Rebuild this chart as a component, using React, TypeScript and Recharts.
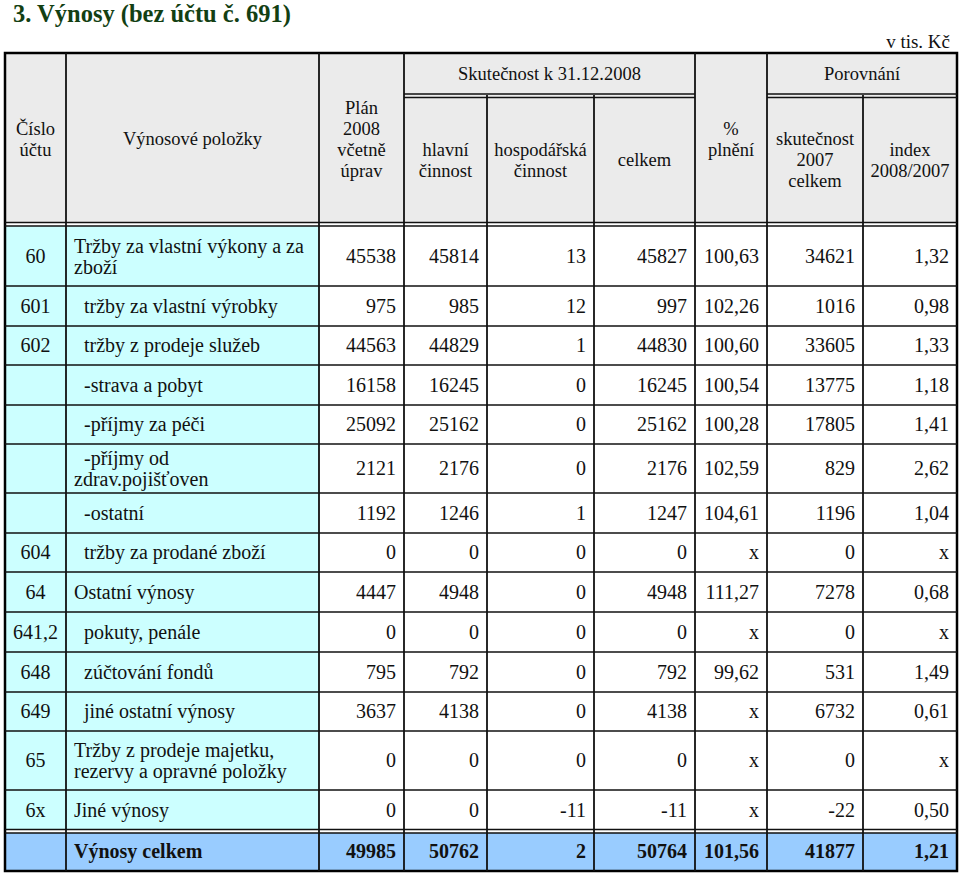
import React from 'react';
import { ComposedChart, XAxis, YAxis, Scatter, ReferenceArea, ReferenceLine } from 'recharts';

// values (v tis. Kč)
const accounts = ['60', '601', '602', '', '', '', '', '604', '64', '641,2', '648', '649', '65', '6x', ''];
const items = [
  'Tržby za vlastní výkony a za\nzboží',
  '  tržby za vlastní výrobky',
  '  tržby z prodeje služeb',
  '  -strava a pobyt',
  '  -příjmy za péči',
  '  -příjmy od\nzdrav.pojišťoven',
  '  -ostatní',
  '  tržby za prodané zboží',
  'Ostatní výnosy',
  '  pokuty, penále',
  '  zúčtování fondů',
  '  jiné ostatní výnosy',
  'Tržby z prodeje majetku,\nrezervy a opravné položky',
  'Jiné výnosy',
  'Výnosy celkem',
];
const plan2008 = ['45538', '975', '44563', '16158', '25092', '2121', '1192', '0', '4447', '0', '795', '3637', '0', '0', '49985'];
const mainActivity = ['45814', '985', '44829', '16245', '25162', '2176', '1246', '0', '4948', '0', '792', '4138', '0', '0', '50762'];
const economicActivity = ['13', '12', '1', '0', '0', '0', '1', '0', '0', '0', '0', '0', '0', '-11', '2'];
const total2008 = ['45827', '997', '44830', '16245', '25162', '2176', '1247', '0', '4948', '0', '792', '4138', '0', '-11', '50764'];
const fulfilment = ['100,63', '102,26', '100,60', '100,54', '100,28', '102,59', '104,61', 'x', '111,27', 'x', '99,62', 'x', 'x', 'x', '101,56'];
const actual2007 = ['34621', '1016', '33605', '13775', '17805', '829', '1196', '0', '7278', '0', '531', '6732', '0', '-22', '41877'];
const index0807 = ['1,32', '0,98', '1,33', '1,18', '1,41', '2,62', '1,04', 'x', '0,68', 'x', '1,49', '0,61', 'x', '0,50', '1,21'];

const title = '3. Výnosy (bez účtu č. 691)';
const unitNote = 'v tis. Kč';
const groupHeaders = ['Skutečnost k 31.12.2008', 'Porovnání'];
const columnHeaders = [
  'Číslo\núčtu',
  'Výnosové položky',
  'Plán\n2008\nvčetně\núprav',
  'hlavní\nčinnost',
  'hospodářská\nčinnost',
  'celkem',
  '%\nplnění',
  'skutečnost\n2007\ncelkem',
  'index\n2008/2007',
];

// table layout
const W = 960;
const H = 876;
const colEdges = [5, 66, 319, 404, 487, 594, 695, 767, 863, 957];
const rowEdges = [227, 286, 326, 365, 405, 444, 493, 533, 572, 612, 652, 692, 731, 790, 831, 871];
const headTop = 53;
const headMid = 95;
const headBottom = 225;
const fullHeaderCols = [0, 1, 2, 6];
const groupSpans = [[3, 6], [7, 9]];

const FONT = "'Liberation Serif', 'Times New Roman', serif";
const INK = '#111';

type Cell = {
  x: number;
  y: number;
  text: string;
  anchor: 'start' | 'middle' | 'end';
  size: number;
  bold?: boolean;
  color?: string;
};

function buildCells(): Cell[] {
  const cells: Cell[] = [];
  cells.push({ x: 13, y: 13.5, text: title, anchor: 'start', size: 24.5, bold: true, color: '#133f13' });
  cells.push({ x: 950, y: 41.5, text: unitNote, anchor: 'end', size: 19 });

  groupSpans.forEach(([a, b], i) => {
    cells.push({
      x: (colEdges[a] + colEdges[b]) / 2,
      y: (headTop + headMid) / 2,
      text: groupHeaders[i],
      anchor: 'middle',
      size: 18.5,
    });
  });
  columnHeaders.forEach((t, c) => {
    const full = fullHeaderCols.includes(c);
    cells.push({
      x: (colEdges[c] + colEdges[c + 1]) / 2,
      y: full ? (headTop + headBottom) / 2 : (headMid + headBottom) / 2,
      text: t,
      anchor: 'middle',
      size: 18.5,
    });
  });

  const numeric = [plan2008, mainActivity, economicActivity, total2008, fulfilment, actual2007, index0807];
  const last = items.length - 1;
  items.forEach((item, r) => {
    const cy = (rowEdges[r] + rowEdges[r + 1]) / 2 + (r === last ? 0.5 : 0);
    const bold = r === last;
    if (accounts[r]) {
      cells.push({ x: (colEdges[0] + colEdges[1]) / 2, y: cy, text: accounts[r], anchor: 'middle', size: 20, bold });
    }
    cells.push({ x: colEdges[1] + 8, y: cy, text: item, anchor: 'start', size: 20, bold });
    numeric.forEach((col, i) => {
      cells.push({ x: colEdges[i + 3] - 8, y: cy, text: col[r], anchor: 'end', size: 20, bold });
    });
  });
  return cells;
}

const cells = buildCells();

const renderCell = (props: any) => {
  const { cx, cy, payload } = props;
  const p = payload as Cell;
  const lines = p.text.split('\n');
  const lh = 21;
  const base = cy - ((lines.length - 1) * lh) / 2 + p.size * 0.34;
  return (
    <text
      x={cx}
      y={base}
      textAnchor={p.anchor}
      fill={p.color || INK}
      xmlSpace="preserve"
      style={{
        whiteSpace: 'pre',
        fontFamily: FONT,
        fontSize: p.size,
        fontWeight: p.bold ? 700 : 400,
      }}
    >
      {lines.map((l, i) => (
        <tspan key={i} x={cx} y={base + i * lh}>
          {l}
        </tspan>
      ))}
    </text>
  );
};

type Seg = { x1: number; y1: number; x2: number; y2: number; w: number };

function buildLines(): Seg[] {
  const segs: Seg[] = [];
  const left = colEdges[0];
  const right = colEdges[colEdges.length - 1];
  const bottom = rowEdges[rowEdges.length - 1];
  // vertical rules
  colEdges.slice(1, -1).forEach((x, i) => {
    const c = i + 1;
    const inGroup = groupSpans.some(([a, b]) => c > a && c < b) || c === 8;
    segs.push({ x1: x, y1: inGroup ? headMid : headTop, x2: x, y2: bottom, w: 1.8 });
  });
  // double rule under group headers
  groupSpans.forEach(([a, b]) => {
    [94, 97.5].forEach((y) => segs.push({ x1: colEdges[a], y1: y, x2: colEdges[b], y2: y, w: 1.3 }));
  });
  // double rule under header
  [222.5, 226].forEach((y) => segs.push({ x1: left, y1: y, x2: right, y2: y, w: 1.4 }));
  // body rows
  rowEdges.slice(1, -2).forEach((y) => segs.push({ x1: left, y1: y, x2: right, y2: y, w: 1.6 }));
  // double rule above total
  [829.5, 833].forEach((y) => segs.push({ x1: left, y1: y, x2: right, y2: y, w: 1.4 }));
  return segs;
}

const lines = buildLines();

export default function App() {
  const left = colEdges[0];
  const right = colEdges[colEdges.length - 1];
  const bottom = rowEdges[rowEdges.length - 1];
  return (
    <div
      style={{
        position: 'absolute',
        left: 0,
        top: 0,
        width: W,
        height: H,
        background: '#fff',
        fontFamily: FONT,
      }}
    >
      <ComposedChart width={W} height={H} margin={{ top: 0, right: 0, bottom: 0, left: 0 }}>
        <XAxis type="number" dataKey="x" domain={[0, W]} hide allowDataOverflow />
        <YAxis type="number" dataKey="y" domain={[0, H]} reversed hide allowDataOverflow />

        <ReferenceArea x1={left} x2={right} y1={headTop} y2={222.5} fill="#ebebeb" fillOpacity={1} stroke="none" />
        <ReferenceArea x1={left} x2={colEdges[2]} y1={226} y2={829.5} fill="#ccffff" fillOpacity={1} stroke="none" />
        <ReferenceArea x1={left} x2={right} y1={833} y2={bottom} fill="#99ccff" fillOpacity={1} stroke="none" />

        {lines.map((s, i) => (
          <ReferenceLine
            key={i}
            segment={[{ x: s.x1, y: s.y1 }, { x: s.x2, y: s.y2 }]}
            stroke="#111"
            strokeWidth={s.w}
            ifOverflow="visible"
          />
        ))}
        <ReferenceArea
          x1={left}
          x2={right}
          y1={headTop}
          y2={bottom}
          fill="none"
          stroke="#000"
          strokeWidth={2.5}
        />

        <Scatter data={cells} shape={renderCell} isAnimationActive={false} />
      </ComposedChart>
    </div>
  );
}
